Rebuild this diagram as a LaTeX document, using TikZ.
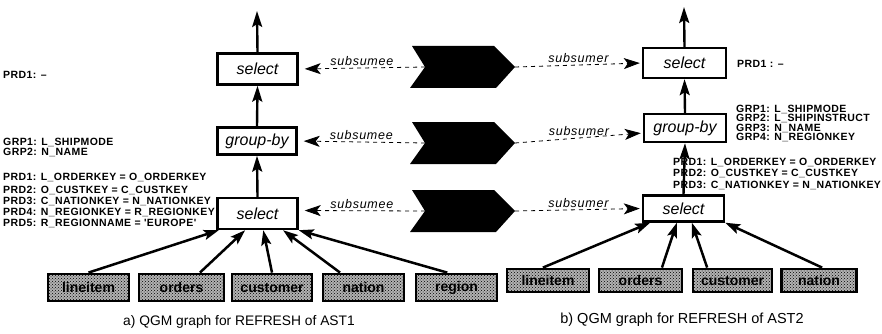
\documentclass[tikz,border=0pt]{standalone}
\usepackage{fontspec}
\setmainfont{Liberation Sans}
\usetikzlibrary{arrows.meta,calc,patterns}

% predicate / grouping annotations
\newfontfamily\notefont[LetterSpace=4]{Liberation Sans}
% labels on the dashed links
\newfontfamily\tagfont[LetterSpace=6]{Liberation Sans}

\tikzset{
  opbox/.style={draw, line width=2.4pt, inner sep=0pt,
    font=\fontsize{16}{18}\selectfont\itshape},
  tbl/.style={draw, line width=2.8pt, inner sep=0pt,
    preaction={fill=black!30}, pattern=crosshatch dots, pattern color=black,
    font=\fontsize{14}{16}\selectfont\bfseries},
  flow/.style={line width=2.4pt, -{Stealth[length=16pt,width=10pt,inset=3pt]}},
  feed/.style={line width=2.5pt, -{Stealth[length=15pt,width=10pt,inset=3pt]}},
  link/.style={line width=0.8pt, dash pattern=on 4pt off 4pt,
    -{Stealth[length=16pt,width=11pt,inset=4pt]}},
  note/.style={anchor=west, inner sep=0pt, font=\fontsize{10.5}{11}\notefont\bfseries},
  tag/.style={inner sep=1.5pt, font=\fontsize{12.5}{14}\tagfont\itshape},
  caption/.style={inner sep=0pt},
  chevron/.pic={
    \fill (412,-21) -- (494,-21) -- (515,0) -- (496,21) -- (410,21) -- (425,0) -- cycle;
    \coordinate (-notch) at (425,0);
    \coordinate (-tip) at (515,0);
  }
}

\begin{document}
\begin{tikzpicture}[x=1pt, y=-1pt]
\useasboundingbox (0,0) rectangle (882,334);

% ---------- a) AST1 ----------
\node[opbox, minimum width=80, minimum height=31] (sel1a) at (257.5,69) {select};
\node[opbox, minimum width=79, minimum height=27] (grpa) at (257,141) {group-by};
\node[opbox, minimum width=80, minimum height=31] (sel2a) at (257.5,213.5) {select};
\coordinate (outa) at (257,11);

\node[tbl, minimum width=81, minimum height=27] (lia) at (88.5,287.5) {lineitem};
\node[tbl, minimum width=85, minimum height=27] (ora) at (181.5,287.5) {orders};
\node[tbl, minimum width=80, minimum height=27] (cua) at (272,287.5) {customer};
\node[tbl, minimum width=81, minimum height=27] (naa) at (363.5,287.5) {nation};
\node[tbl, minimum width=81, minimum height=27] (rea) at (456.5,287.5) {region};

\draw[flow] (sel1a.north) -- (outa);
\draw[flow] (grpa.north) -- (sel1a.south);
\draw[flow] (sel2a.north) -- (grpa.south);

\draw[feed] (lia.north) -- ($(sel2a.south west)!0.03!(sel2a.south east)$);
\draw[feed] ($(ora.north west)!0.71!(ora.north east)$) -- ($(sel2a.south west)!0.35!(sel2a.south east)$);
\draw[feed] (cua.north) -- ($(sel2a.south west)!0.57!(sel2a.south east)$);
\draw[feed] ($(naa.north west)!0.22!(naa.north east)$) -- ($(sel2a.south west)!0.81!(sel2a.south east)$);
\draw[feed] ($(rea.north west)!0.39!(rea.north east)$) -- (sel2a.south east);

\node[note] (pa0) at (3,75) {PRD1: \textendash};
\node[note] (ga1) at (3,142) {GRP1: L\_SHIPMODE};
\node[note] (ga2) at (3,152.5) {GRP2: N\_NAME};
\node[note] (pa1) at (3,177) {PRD1: L\_ORDERKEY = O\_ORDERKEY};
\node[note] (pa2) at (3,190) {PRD2: O\_CUSTKEY = C\_CUSTKEY};
\node[note] (pa3) at (3,201) {PRD3: C\_NATIONKEY = N\_NATIONKEY};
\node[note] (pa4) at (3,212) {PRD4: N\_REGIONKEY = R\_REGIONKEY};
\node[note] (pa5) at (3,223) {PRD5: R\_REGIONNAME = 'EUROPE'};

\node[caption, font=\fontsize{13.8}{16}\selectfont] (capa) at (239,322) {a) QGM graph for REFRESH of AST1};

% ---------- subsumption links ----------
\pic (cv1) at (0,67) {chevron};
\pic (cv2) at (0,143) {chevron};
\pic (cv3) at (0,211) {chevron};

% ---------- b) AST2 ----------
\node[opbox, minimum width=83, minimum height=30] (sel1b) at (684.5,63) {select};
\node[opbox, minimum width=82, minimum height=28] (grpb) at (685,128) {group-by};
\node[opbox, minimum width=81, minimum height=26] (sel2b) at (683.5,208.5) {select};
\coordinate (outb) at (684,7);

\node[tbl, minimum width=82, minimum height=23] (lib) at (548,280.5) {lineitem};
\node[tbl, minimum width=83, minimum height=23] (orb) at (640.5,280.5) {orders};
\node[tbl, minimum width=79, minimum height=23] (cub) at (732.5,280.5) {customer};
\node[tbl, minimum width=75, minimum height=23] (nab) at (819,280.5) {nation};

\draw[flow] (sel1b.north) -- (outb);
\draw[flow] (grpb.north) -- (sel1b.south);
\draw[flow] (sel2b.north) -- (grpb.south);

\draw[feed] ($(lib.north west)!0.44!(lib.north east)$) -- ($(sel2b.south west)!0.1!(sel2b.south east)$);
\draw[feed] ($(orb.north west)!0.75!(orb.north east)$) -- ($(sel2b.south west)!0.42!(sel2b.south east)$);
\draw[feed] ($(cub.north west)!0.19!(cub.north east)$) -- ($(sel2b.south west)!0.6!(sel2b.south east)$);
\draw[feed] ($(nab.north west)!0.54!(nab.north east)$) -- (sel2b.south east);

\node[note] (pb0) at (737,64) {PRD1 : \textendash};
\node[note] (gb1) at (736,109) {GRP1: L\_SHIPMODE};
\node[note] (gb2) at (736,118.5) {GRP2: L\_SHIPINSTRUCT};
\node[note] (gb3) at (736,128) {GRP3: N\_NAME};
\node[note] (gb4) at (736,137.5) {GRP4: N\_REGIONKEY};
\node[note] (pb1) at (673,162) {PRD1: L\_ORDERKEY = O\_ORDERKEY};
\node[note] (pb2) at (673,173.5) {PRD2: O\_CUSTKEY = C\_CUSTKEY};
\node[note] (pb3) at (673,185) {PRD3: C\_NATIONKEY = N\_NATIONKEY};

\node[caption, font=\fontsize{14.5}{16}\selectfont] (capb) at (682,320) {b) QGM graph for REFRESH of AST2};

% dashed links from each chevron to both graphs
\draw[link, shorten >=6pt] (cv1-notch) -- node[tag, above] {subsumee} (sel1a.east);
\draw[link, shorten >=6pt] (cv2-notch) -- node[tag, above] {subsumee} (grpa.east);
\draw[link, shorten >=6pt] (cv3-notch) -- node[tag, above] {subsumee} ($(sel2a.east)+(0,-3)$);
\draw[link, shorten >=2pt] (cv1-tip) -- node[tag, above] {subsumer} (sel1b.west);
\draw[link, shorten >=2pt] (cv2-tip) -- node[tag, above] {subsumer} ($(grpb.west)+(0,5)$);
\draw[link, shorten >=2pt] (cv3-tip) -- node[tag, above] {subsumer} (sel2b.west);
\end{tikzpicture}
\end{document}
